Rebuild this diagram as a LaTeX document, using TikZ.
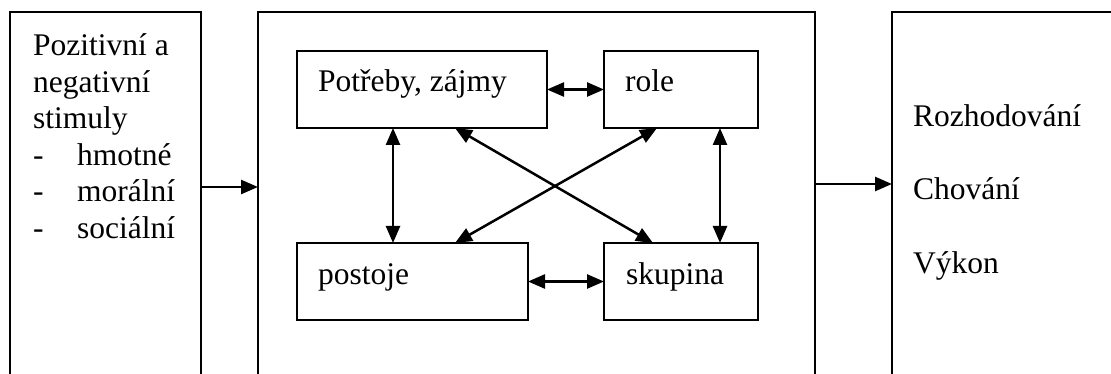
\documentclass[tikz,border=0pt]{standalone}
\usepackage{fontspec}
\setmainfont{Liberation Serif}
\usetikzlibrary{arrows.meta,calc}
\begin{document}
\begin{tikzpicture}[x=1pt,y=-1pt,
  frame/.style={draw, line width=1.8pt, anchor=north west, inner sep=0pt, outer sep=0pt, minimum height=420pt},
  box/.style={draw, line width=1.8pt, anchor=north west, inner sep=0pt, outer sep=0pt, minimum height=77pt},
  txt/.style={anchor=base west, inner sep=0pt, font=\fontsize{31.5}{37}\selectfont},
  link/.style={line width=2.5pt, {Triangle[length=17pt,width=14pt]}-{Triangle[length=17pt,width=14pt]}},
  feed/.style={line width=2.5pt, -{Triangle[length=17pt,width=14pt]}}]
\useasboundingbox (0,0) rectangle (1111,374);
\clip (0,0) rectangle (1111,374);

% three tall panels, open at the bottom edge
\node[frame, minimum width=191pt] (src) at (10,12) {};
\node[frame, minimum width=557pt] (mid) at (258,12) {};
\node[frame, minimum width=300pt] (out) at (892,12) {};

% stimuli list
\node[txt] (s1) at (33,56) {Pozitivní a};
\node[txt] (s2) at (33,92.5) {negativní};
\node[txt] (s3) at (33,129) {stimuly};
\node[txt] (s4) at (33,165.5) {\makebox[44pt][l]{-}hmotné};
\node[txt] (s5) at (33,202) {\makebox[44pt][l]{-}morální};
\node[txt] (s6) at (33,238.5) {\makebox[44pt][l]{-}sociální};

% outcomes
\node[txt] (r1) at (913,127) {Rozhodování};
\node[txt] (r2) at (913,200) {Chování};
\node[txt] (r3) at (913,273) {Výkon};

% inner factor boxes
\node[box, minimum width=250pt] (pz) at (297,51) {};
\node[box, minimum width=154pt] (ro) at (604,51) {};
\node[box, minimum width=231pt] (po) at (297,243) {};
\node[box, minimum width=154pt] (sk) at (604,243) {};

\node[txt] (tpz) at (318,92) {Potřeby, zájmy};
\node[txt] (tro) at (625,92) {role};
\node[txt] (tpo) at (318,284) {postoje};
\node[txt] (tsk) at (626,284) {skupina};

% links between factors
\draw[link] (pz.east) -- (ro.west);
\draw[link] (po.east) -- (sk.west);
\draw[link] ($(pz.south west)+(96,0)$) -- ($(po.north west)+(96,0)$);
\draw[link] ($(ro.south west)+(116,0)$) -- ($(sk.north west)+(116,0)$);
\draw[link] ($(pz.south west)+(158,0)$) -- ($(sk.north west)+(49,0)$);
\draw[link] ($(ro.south west)+(53,0)$) -- ($(po.north west)+(158,0)$);

% flow between panels
\coordinate (lin) at (0,187);
\coordinate (lout) at (0,184);
\draw[feed] (src.east |- lin) -- (mid.west |- lin);
\draw[feed] (mid.east |- lout) -- (out.west |- lout);
\end{tikzpicture}
\end{document}
